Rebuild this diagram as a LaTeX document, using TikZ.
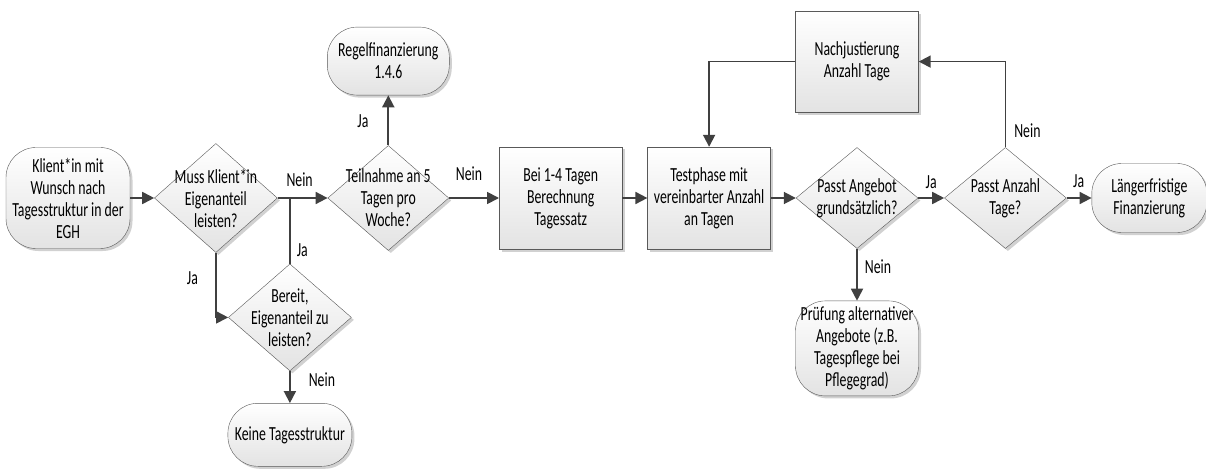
\documentclass[tikz,border=0pt]{standalone}
\usepackage{fontspec}
\setmainfont{Carlito}[FakeStretch=0.69]
\usepackage{tikz}
\usetikzlibrary{arrows.meta, positioning, shapes.geometric, shadows}

\begin{document}
\begin{tikzpicture}[x=1pt, y=1pt, font=\fontsize{20}{22}\selectfont,
    base/.style={draw=black!65, top color=white, bottom color=black!11, drop shadow={shadow xshift=2.5pt, shadow yshift=-2.5pt, fill=black!18, opacity=1}},
    terminal/.style={base, rectangle, rounded corners=30pt, inner sep=2pt, align=center},
    process/.style={base, rectangle, inner sep=2pt, align=center},
    decision/.style={base, diamond, inner sep=0pt},
    arrow/.style={-{Triangle[length=12pt, width=12pt]}, draw=black!75, line width=1.8pt},
    line/.style={draw=black!75, line width=1.8pt},
    lbl/.style={inner sep=1pt}]

    \useasboundingbox (0,0) rectangle (1206,469);

    \node[terminal, minimum width=124pt, minimum height=101pt] (start) at (68,271) {Klient*in mit\\Wunsch nach\\Tagesstruktur in der\\EGH};
    \node[decision, minimum width=123pt, minimum height=109pt, right=24pt of start, label={[align=center]center:Muss Klient*in\\Eigenanteil\\leisten?}] (muss) {};
    \node[decision, minimum width=121pt, minimum height=105pt, right=50pt of muss, label={[align=center]center:Teilnahme an 5\\Tagen pro\\Woche?}] (teil) {};
    \node[terminal, minimum width=122pt, minimum height=68pt, above=50pt of teil] (regel) {Regelfinanzierung\\1.4.6};
    \node[decision, minimum width=123pt, minimum height=107pt, below=11pt of muss, xshift=74pt, label={[align=center]center:Bereit,\\Eigenanteil zu\\leisten?}] (bereit) {};
    \node[terminal, minimum width=124pt, minimum height=63pt, below=32pt of bereit] (keine) {Keine Tagesstruktur};
    \node[process, minimum width=123pt, minimum height=102pt, right=50pt of teil] (bei) {Bei 1-4 Tagen\\Berechnung\\Tagessatz};
    \node[process, minimum width=123pt, minimum height=102pt, right=25pt of bei] (test) {Testphase mit\\vereinbarter Anzahl\\an Tagen};
    \node[decision, minimum width=122pt, minimum height=101pt, right=25pt of test, label={[align=center]center:Passt Angebot\\grundsätzlich?}] (angebot) {};
    \node[decision, minimum width=122pt, minimum height=101pt, right=26pt of angebot, label={[align=center]center:Passt Anzahl\\Tage?}] (anzahl) {};
    \node[terminal, minimum width=115pt, minimum height=69pt, right=25pt of anzahl] (lang) {Längerfristige\\Finanzierung};
    \node[process, minimum width=123pt, minimum height=101pt, above=35pt of angebot] (nach) {Nachjustierung\\Anzahl Tage};
    \node[terminal, minimum width=123pt, minimum height=95pt, below=52pt of angebot] (pruef) {Prüfung alternativer\\Angebote (z.B.\\Tagespflege bei\\Pflegegrad)};

    \draw[arrow] (start) -- (muss);
    \draw[arrow] (muss) -- node[lbl, pos=0.44, above=9pt] {Nein} (teil);
    \draw[line] (bereit.north) -- node[lbl, pos=0.2, right=5pt] {Ja} (bereit.north |- muss.east);
    \draw[arrow] (muss.south) |- node[lbl, pos=0.2, left=16pt] {Ja} (bereit.west);
    \draw[arrow] (bereit) -- node[lbl, pos=0.28, right=17pt] {Nein} (keine);
    \draw[arrow] (teil) -- node[lbl, pos=0.48, left=18pt] {Ja} (regel);
    \draw[arrow] (teil) -- node[lbl, pos=0.4, above=15pt] {Nein} (bei);
    \draw[arrow] (bei) -- (test);
    \draw[arrow] (test) -- (angebot);
    \draw[arrow] (angebot) -- node[lbl, pos=0.5, above=7pt] {Ja} (anzahl);
    \draw[arrow] (anzahl) -- node[lbl, pos=0.48, above=8pt] {Ja} (lang);
    \draw[arrow] (anzahl.north) |- node[lbl, pos=0.094, right=7pt] {Nein} (nach.east);
    \draw[arrow] (nach.west) -| (test.north);
    \draw[arrow] (angebot) -- node[lbl, pos=0.35, right=6pt] {Nein} (pruef);
\end{tikzpicture}
\end{document}
